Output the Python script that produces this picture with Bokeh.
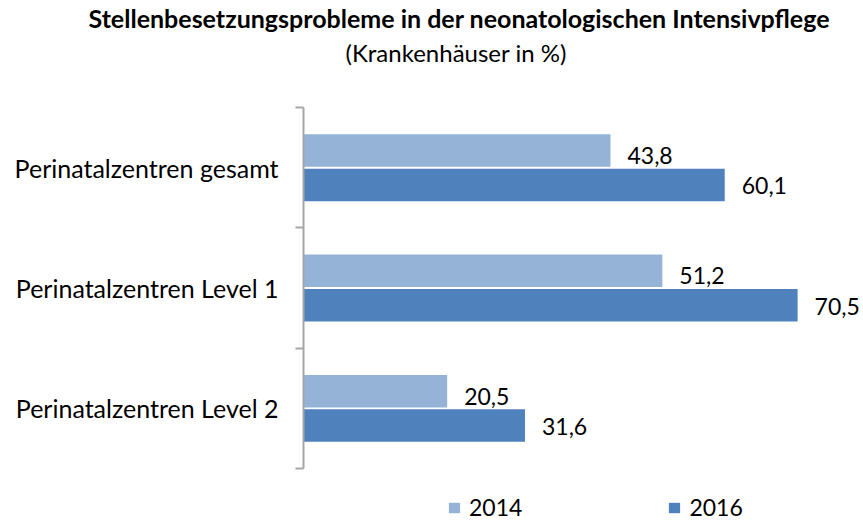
from bokeh.plotting import figure
from bokeh.models import (ColumnDataSource, LabelSet, FixedTicker, Range1d,
                          Legend, LegendItem, Title)
from bokeh.core.properties import value
from bokeh.embed import file_html
from bokeh.resources import INLINE

# ---- data ----
categories = ["Perinatalzentren gesamt", "Perinatalzentren Level 1", "Perinatalzentren Level 2"]
years = ["2014", "2016"]
values_2014 = [43.8, 51.2, 20.5]
values_2016 = [60.1, 70.5, 31.6]
colors = ["#95B3D7", "#4F81BD"]
title_text = "Stellenbesetzungsprobleme in der neonatologischen Intensivpflege"
subtitle_text = "(Krankenhäuser in %)"

FONT = "Lato"
n = len(categories)
ypos = [n - 1 - i for i in range(n)]
off = 0.143
bar_h = 0.27

def fmt(v):
    return f"{v:.1f}".replace(".", ",")

src = ColumnDataSource(dict(
    cat=categories,
    y14=[y + off for y in ypos],
    y16=[y - off for y in ypos],
    v14=values_2014,
    v16=values_2016,
    t14=[fmt(v) for v in values_2014],
    t16=[fmt(v) for v in values_2016],
))

# frame spans from the category area down to the bottom edge (legend lives there)
p = figure(width=863, height=521, output_backend="svg", toolbar_location=None,
           title=None, x_axis_location=None,
           x_range=Range1d(0, 79.9), y_range=Range1d(-0.94, n - 0.5),
           min_border_left=303, min_border_right=0, min_border_top=107, min_border_bottom=0)
p.outline_line_color = None
p.xgrid.visible = False
p.ygrid.visible = False

r14 = p.hbar(y="y14", left=0, right="v14", height=bar_h, source=src,
             fill_color=colors[0], line_color=None)
r16 = p.hbar(y="y16", left=0, right="v16", height=bar_h, source=src,
             fill_color=colors[1], line_color=None)

yax = p.yaxis[0]
yax.bounds = (-0.5, n - 0.5)
yax.ticker = FixedTicker(ticks=ypos, minor_ticks=[k - 0.5 for k in range(n + 1)])
yax.major_label_overrides = {y: c for y, c in zip(ypos, categories)}
yax.major_tick_line_color = None
yax.major_tick_out = 0
yax.major_tick_in = 0
yax.minor_tick_in = 0
yax.minor_tick_out = 8
yax.minor_tick_line_color = "#A6A6A6"
yax.minor_tick_line_width = 2
yax.axis_line_color = "#A6A6A6"
yax.axis_line_width = 2
yax.major_label_text_font = FONT
yax.major_label_text_font_size = "25px"
yax.major_label_text_color = "#000000"
yax.major_label_standoff = 17

for ycol, vcol, tcol, dy in (("y14", "v14", "t14", -5), ("y16", "v16", "t16", -1)):
    p.add_layout(LabelSet(x=vcol, y=ycol, text=tcol, source=src, x_offset=17,
                          y_offset=dy, text_baseline="middle", text_align="left",
                          text_font=value(FONT), text_font_size="23px",
                          text_color="#000000"))

# spacer between subtitle and plot area
p.add_layout(Title(text=" ", align="left", standoff=35, text_font_size="1px"), "above")
p.add_layout(Title(text=subtitle_text, align="left", offset=42, standoff=6,
                   text_font=FONT, text_font_style="normal", text_font_size="24px",
                   text_color="#000000"), "above")
p.add_layout(Title(text=title_text, align="left", offset=-215, standoff=0,
                   text_font=FONT, text_font_style="bold", text_font_size="25px",
                   text_color="#000000"), "above")

leg = Legend(items=[LegendItem(label=years[0], renderers=[r14]),
                    LegendItem(label=years[1], renderers=[r16])],
             orientation="horizontal", location=(144, 0), padding=0, margin=0,
             spacing=145, label_standoff=8, glyph_width=14, glyph_height=13,
             label_text_font=FONT, label_text_font_size="23px",
             label_text_color="#000000", border_line_alpha=0,
             background_fill_alpha=0)
p.add_layout(leg, "center")

open("out.html", "w").write(file_html(p, INLINE))
